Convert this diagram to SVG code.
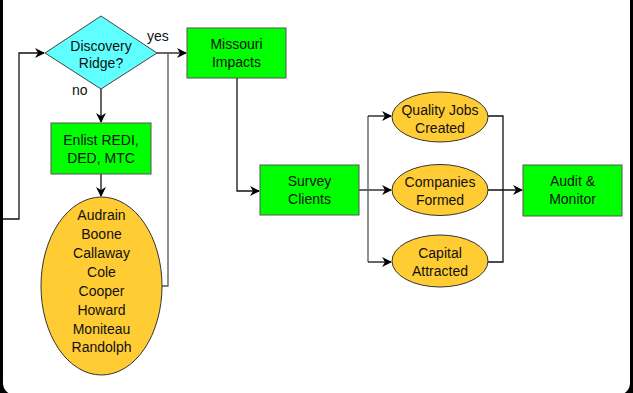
<svg xmlns="http://www.w3.org/2000/svg" width="633" height="393" viewBox="0 0 633 393">
  <defs>
    <marker id="arrow" viewBox="0 0 10 10" refX="9" refY="5" markerWidth="10" markerHeight="10" markerUnits="userSpaceOnUse" orient="auto">
      <path d="M0,0 L10,5 L0,10 L3,5 z" fill="#000"/>
    </marker>
    <style>
      .box { fill: #00ff00; stroke: #555; stroke-width: 1; }
      .oval { fill: #ffcc33; stroke: #333; stroke-width: 1; }
      .dia { fill: #5fffff; stroke: #444; stroke-width: 1; }
      .lbl { font-family: "Liberation Sans", Arial, sans-serif; font-size: 14px; fill: #111; text-anchor: middle; }
      .small { font-family: "Liberation Sans", Arial, sans-serif; font-size: 14px; fill: #111; }
      .wire { fill: none; stroke: #111; stroke-width: 1.3; }
      .grey { stroke: #555; }
    </style>
  </defs>

  <!-- page frame -->
  <rect x="0" y="0" width="633" height="393" fill="#000"/>
  <rect x="3" y="-20" width="627" height="415" rx="12" fill="#fff"/>

  <g id="connectors">
    <path class="wire" d="M3,219 H19 V53 H44" marker-end="url(#arrow)"/>
    <path class="wire" d="M157,53 H186" marker-end="url(#arrow)"/>
    <path class="wire grey" d="M162,286 H168 V53"/>
    <path class="wire" d="M101,89 V122" marker-end="url(#arrow)"/>
    <path class="wire" d="M101,174 V196" marker-end="url(#arrow)"/>
    <path class="wire" d="M237,78 V191 H259" marker-end="url(#arrow)"/>
    <path class="wire" d="M359,190 H391" marker-end="url(#arrow)"/>
    <path class="wire grey" d="M368,116 V262"/>
    <path class="wire" d="M368,116 H391" marker-end="url(#arrow)"/>
    <path class="wire" d="M368,262 H391" marker-end="url(#arrow)"/>
    <path class="wire" d="M488,116 H503 V262 H488"/>
    <path class="wire" d="M488,190 H522" marker-end="url(#arrow)"/>
    <text class="small" x="147" y="41">yes</text>
    <text class="small" x="72" y="95">no</text>
  </g>

  <g id="discovery-ridge">
    <polygon class="dia" points="101,16 157,53 101,89 45,53"/>
    <text class="lbl" x="101" y="51">Discovery</text>
    <text class="lbl" x="101" y="68">Ridge?</text>
  </g>

  <g id="enlist">
    <rect class="box" x="51" y="123" width="100" height="51"/>
    <text class="lbl" x="101" y="145">Enlist REDI,</text>
    <text class="lbl" x="101" y="163">DED, MTC</text>
  </g>

  <g id="counties">
    <ellipse class="oval" cx="101.5" cy="286" rx="60.5" ry="89"/>
    <text class="lbl" x="101.5" y="220">Audrain</text>
    <text class="lbl" x="101.5" y="239">Boone</text>
    <text class="lbl" x="101.5" y="258">Callaway</text>
    <text class="lbl" x="101.5" y="277">Cole</text>
    <text class="lbl" x="101.5" y="296">Cooper</text>
    <text class="lbl" x="101.5" y="315">Howard</text>
    <text class="lbl" x="101.5" y="334">Moniteau</text>
    <text class="lbl" x="101.5" y="352">Randolph</text>
  </g>

  <g id="missouri-impacts">
    <rect class="box" x="187" y="28" width="99" height="50"/>
    <text class="lbl" x="236.5" y="49">Missouri</text>
    <text class="lbl" x="236.5" y="67">Impacts</text>
  </g>

  <g id="survey-clients">
    <rect class="box" x="260" y="165" width="99" height="50"/>
    <text class="lbl" x="309.5" y="186">Survey</text>
    <text class="lbl" x="309.5" y="204">Clients</text>
  </g>

  <g id="quality-jobs">
    <ellipse class="oval" cx="440" cy="117" rx="48" ry="25"/>
    <text class="lbl" x="440" y="115">Quality Jobs</text>
    <text class="lbl" x="440" y="133">Created</text>
  </g>

  <g id="companies-formed">
    <ellipse class="oval" cx="440" cy="190" rx="48" ry="25.5"/>
    <text class="lbl" x="440" y="187">Companies</text>
    <text class="lbl" x="440" y="205">Formed</text>
  </g>

  <g id="capital-attracted">
    <ellipse class="oval" cx="440" cy="261" rx="48" ry="26"/>
    <text class="lbl" x="440" y="258">Capital</text>
    <text class="lbl" x="440" y="276">Attracted</text>
  </g>

  <g id="audit-monitor">
    <rect class="box" x="523" y="165" width="99" height="51"/>
    <text class="lbl" x="572.5" y="186">Audit &amp;</text>
    <text class="lbl" x="572.5" y="204">Monitor</text>
  </g>
</svg>
